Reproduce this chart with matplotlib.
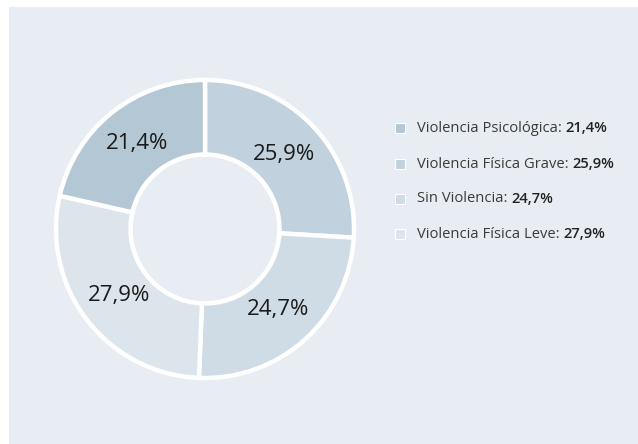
import matplotlib
matplotlib.use("Agg")
import matplotlib.pyplot as plt
from matplotlib.patches import Rectangle, Circle

categories = ["Violencia Física Grave", "Sin Violencia", "Violencia Física Leve", "Violencia Psicológica"]
values = [25.9, 24.7, 27.9, 21.4]
colors = ["#c1d2de", "#cfdbe5", "#dce4ec", "#b3c7d5"]
legend_order = ["Violencia Psicológica", "Violencia Física Grave", "Sin Violencia", "Violencia Física Leve"]

plt.rcParams['font.family'] = ['Open Sans', 'DejaVu Sans']

fig = plt.figure(figsize=(6.38, 4.44), dpi=100)
fig.patch.set_facecolor("white")
bg = "#e7edf2"
fig.patches.append(Rectangle((9 / 638, 0), 1 - 9 / 638, 1 - 7 / 444, transform=fig.transFigure,
                             facecolor=bg, edgecolor="none", zorder=-5))

# donut axes: center (205,229), radius ~152 px
R = 152
cx, cy = 205, 229
ax = fig.add_axes([(cx - R) / 638, 1 - (cy + R) / 444, 2 * R / 638, 2 * R / 444], zorder=2)
ax.set_facecolor("none")
fmt = lambda v: f"{v:.1f}".replace(".", ",") + "%"
wedges, texts = ax.pie(values, colors=colors, startangle=90, counterclock=False,
                       radius=1.0, labels=[fmt(v) for v in values], labeldistance=0.73,
                       wedgeprops=dict(width=0.5, edgecolor="white", linewidth=3.2),
                       textprops=dict(fontsize=16, color="#1a1a1a", ha="center", va="center"))
for t in texts:
    t.set_horizontalalignment("center")
ax.add_patch(Circle((0, 0), 0.5, facecolor=bg, edgecolor="white", linewidth=3.2, zorder=0.5))
ax.set_aspect("equal")
ax.set_xlim(-1.02, 1.02)
ax.set_ylim(-1.02, 1.02)
ax.axis("off")

# legend
color_map = dict(zip(categories, colors))
val_map = dict(zip(categories, values))
ys = [128, 164, 199, 234]
for name, y in zip(legend_order, ys):
    fig.patches.append(Rectangle((395 / 638, 1 - (y + 5) / 444), 10 / 638, 10 / 444,
                                 transform=fig.transFigure, facecolor=color_map[name],
                                 edgecolor="white", linewidth=0.8, zorder=3))
    t1 = fig.text(417 / 638, 1 - y / 444, name + ": ", fontsize=10.6, color="#3a3a3a",
                  ha="left", va="center")
    fig.canvas.draw()
    bb = t1.get_window_extent()
    fig.text(bb.x1 / 638, 1 - y / 444, fmt(val_map[name]), fontsize=10.6, color="#222222",
             fontweight="semibold", ha="left", va="center")

fig.savefig("out.png", dpi=100, facecolor=fig.get_facecolor())
